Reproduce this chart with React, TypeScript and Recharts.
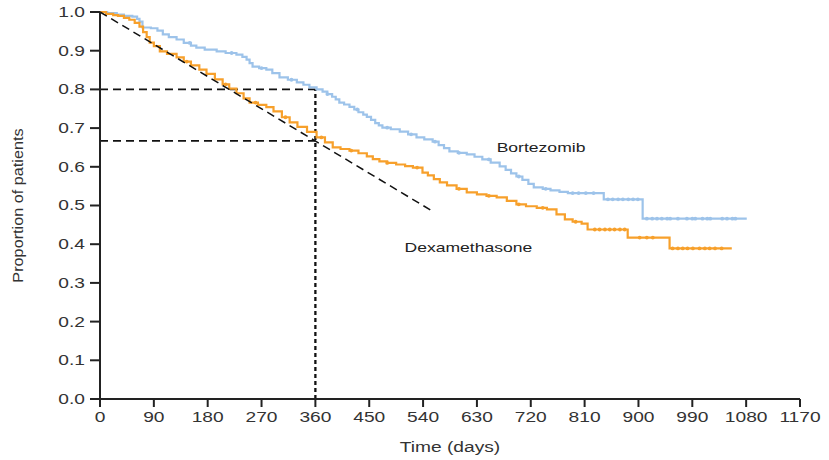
import { Line, LineChart, ReferenceDot, ReferenceLine, XAxis, YAxis } from 'recharts'

// step curves: event times (days) and survival after each step
const bortezomibDays = [0, 12, 28, 40, 54, 62, 66, 71, 85, 96, 105, 115, 128, 140, 152, 161, 175, 195, 210, 228, 238, 245, 250, 255, 266, 278, 288, 300, 314, 329, 340, 350, 362, 372, 380, 388, 394, 400, 408, 417, 425, 432, 440, 446, 453, 460, 466, 472, 486, 501, 515, 529, 542, 556, 566, 575, 584, 598, 613, 626, 639, 653, 668, 678, 687, 696, 706, 716, 725, 740, 753, 768, 782, 842, 907, 1081]
const bortezomibSurv = [1.0, 0.997, 0.993, 0.99, 0.988, 0.982, 0.975, 0.96, 0.958, 0.952, 0.942, 0.935, 0.929, 0.92, 0.913, 0.908, 0.903, 0.898, 0.894, 0.89, 0.884, 0.877, 0.868, 0.859, 0.855, 0.851, 0.842, 0.831, 0.825, 0.818, 0.812, 0.805, 0.8, 0.794, 0.788, 0.781, 0.774, 0.766, 0.761, 0.755, 0.748, 0.741, 0.735, 0.729, 0.721, 0.713, 0.707, 0.701, 0.697, 0.691, 0.684, 0.676, 0.671, 0.665, 0.656, 0.648, 0.64, 0.636, 0.632, 0.626, 0.619, 0.611, 0.601, 0.592, 0.583, 0.575, 0.566, 0.556, 0.547, 0.543, 0.539, 0.535, 0.532, 0.516, 0.466, 0.466]
const bortezomibCensored = [150, 220, 270, 320, 380, 430, 480, 520, 560, 600, 650, 700, 745, 790, 800, 812, 825, 849, 857, 866, 874, 883, 891, 899, 914, 923, 931, 939, 948, 953, 966, 981, 990, 995, 1007, 1015, 1020, 1040, 1048, 1057, 1062]

const dexaDays = [0, 10, 22, 30, 40, 49, 58, 66, 72, 78, 83, 90, 100, 112, 128, 140, 152, 166, 178, 192, 205, 216, 228, 240, 250, 264, 278, 290, 304, 317, 330, 346, 362, 376, 389, 402, 417, 432, 446, 456, 467, 480, 495, 510, 523, 539, 548, 558, 568, 580, 596, 613, 630, 646, 663, 680, 696, 712, 730, 747, 763, 777, 790, 805, 815, 882, 952, 1056]
const dexaSurv = [1.0, 0.995, 0.992, 0.99, 0.985, 0.98, 0.972, 0.962, 0.948, 0.935, 0.921, 0.912, 0.898, 0.892, 0.883, 0.872, 0.862, 0.851, 0.84, 0.826, 0.813, 0.802, 0.79, 0.777, 0.766, 0.76, 0.754, 0.743, 0.728, 0.715, 0.703, 0.69, 0.676, 0.663, 0.65, 0.646, 0.642, 0.635, 0.627, 0.62, 0.614, 0.61, 0.606, 0.602, 0.598, 0.585, 0.578, 0.568, 0.56, 0.552, 0.543, 0.534, 0.529, 0.525, 0.521, 0.512, 0.503, 0.498, 0.494, 0.49, 0.477, 0.464, 0.458, 0.453, 0.438, 0.417, 0.389, 0.389]
const dexaCensored = [145, 210, 260, 310, 370, 420, 480, 530, 600, 650, 700, 740, 795, 827, 835, 844, 852, 860, 869, 877, 902, 914, 924, 957, 966, 974, 982, 991, 1002, 1011, 1019, 1028, 1039]

const xTicks = [0, 90, 180, 270, 360, 450, 540, 630, 720, 810, 900, 990, 1080, 1170]
const yTicks = [0, 0.1, 0.2, 0.3, 0.4, 0.5, 0.6, 0.7, 0.8, 0.9, 1.0]

// guide lines
const landmarkDay = 360
const landmarkBortezomib = 0.8
const landmarkDexa = 0.667
const trendEnd = { x: 555, y: 0.486 }

const BLUE = '#9dc3ea'
const ORANGE = '#f7a02b'
const FONT = '"Liberation Sans", Arial, sans-serif'
const WIDE = 1.37 // the figure's lettering is stretched sideways

type Row = { t: number; s: number; c: boolean }

function buildCurve(days: number[], surv: number[], censored: number[]): Row[] {
    const rows: Row[] = days.map((t, i) => ({ t, s: surv[i], c: false }))
    censored.forEach((t) => {
        let s = surv[0]
        days.forEach((d, i) => {
            if (d <= t) s = surv[i]
        })
        rows.push({ t, s, c: true })
    })
    return rows.sort((a, b) => a.t - b.t)
}

const bortezomib = buildCurve(bortezomibDays, bortezomibSurv, bortezomibCensored)
const dexa = buildCurve(dexaDays, dexaSurv, dexaCensored)

const censorDot = (color: string) => (props: any) => {
    const { cx, cy, payload, index } = props
    if (!payload || !payload.c) return <g key={`n-${index}`} />
    return <circle key={`c-${index}`} cx={cx} cy={cy} r={1.9} fill={color} />
}

const XTick = (props: any) => {
    const { x, y, payload } = props
    return (
        <g transform={`translate(${x},${y})`}>
            <text transform={`scale(${WIDE},1)`} textAnchor='middle' dy='0.71em' fontSize={14} fill='#333' fontFamily={FONT}>
                {payload.value}
            </text>
        </g>
    )
}

const YTick = (props: any) => {
    const { x, y, payload } = props
    return (
        <g transform={`translate(${x},${y})`}>
            <text transform={`scale(${WIDE},1)`} textAnchor='end' dy='0.355em' fontSize={14} fill='#333' fontFamily={FONT}>
                {Number(payload.value).toFixed(1)}
            </text>
        </g>
    )
}

const XTitle = (props: any) => {
    const { viewBox } = props
    const cx = viewBox.x + viewBox.width / 2
    return (
        <g transform={`translate(${cx},${viewBox.y + viewBox.height - 8})`}>
            <text transform={`scale(${WIDE},1)`} textAnchor='middle' fontSize={14} fill='#333' fontFamily={FONT}>
                Time (days)
            </text>
        </g>
    )
}

const YTitle = (props: any) => {
    const { viewBox } = props
    const cy = viewBox.y + viewBox.height / 2
    return (
        <g transform={`translate(18,${cy}) rotate(-90)`}>
            <text transform='scale(1.16,1)' textAnchor='middle' dy='0.355em' fontSize={14} fill='#333' fontFamily={FONT}>
                Proportion of patients
            </text>
        </g>
    )
}

const CurveName = (name: string) => (props: any) => {
    const { viewBox } = props
    return (
        <g transform={`translate(${viewBox.x},${viewBox.y})`}>
            <text transform='scale(1.35,1)' textAnchor='start' dy='0.355em' fontSize={13} fill='#222' fontFamily={FONT}>
                {name}
            </text>
        </g>
    )
}

const App = () => {
    return (
        <div style={{ position: 'absolute', left: 0, top: 0, background: '#fff' }}>
            <LineChart width={829} height={460} margin={{ top: 12, right: 29, left: 0, bottom: 0 }}>
                <XAxis
                    type='number'
                    dataKey='t'
                    domain={[0, 1170]}
                    ticks={xTicks}
                    interval={0}
                    height={61}
                    tickSize={8}
                    tickMargin={5}
                    tick={XTick}
                    stroke='#222'
                    strokeWidth={2}
                    label={{ content: XTitle }}
                />
                <YAxis
                    type='number'
                    domain={[0, 1]}
                    ticks={yTicks}
                    interval={0}
                    width={100}
                    tickSize={10}
                    tickMargin={5}
                    tick={YTick}
                    stroke='#222'
                    strokeWidth={2}
                    label={{ content: YTitle }}
                />
                <ReferenceLine segment={[{ x: 0, y: landmarkBortezomib }, { x: landmarkDay, y: landmarkBortezomib }]} stroke='#111' strokeWidth={1.7} strokeDasharray='8 5' />
                <ReferenceLine segment={[{ x: 0, y: landmarkDexa }, { x: landmarkDay, y: landmarkDexa }]} stroke='#111' strokeWidth={1.7} strokeDasharray='8 5' />
                <ReferenceLine segment={[{ x: landmarkDay, y: 0 }, { x: landmarkDay, y: landmarkBortezomib }]} stroke='#111' strokeWidth={2.3} strokeDasharray='4 3' />
                <Line data={bortezomib} dataKey='s' type='stepAfter' stroke={BLUE} strokeWidth={2.2} dot={censorDot(BLUE)} activeDot={false} isAnimationActive={false} />
                <Line data={dexa} dataKey='s' type='stepAfter' stroke={ORANGE} strokeWidth={2.2} dot={censorDot(ORANGE)} activeDot={false} isAnimationActive={false} />
                <ReferenceLine segment={[{ x: 0, y: 1 }, trendEnd]} stroke='#111' strokeWidth={1.5} strokeDasharray='8 5' />
                <ReferenceDot x={663} y={0.65} r={0} label={{ content: CurveName('Bortezomib') }} />
                <ReferenceDot x={509} y={0.391} r={0} label={{ content: CurveName('Dexamethasone') }} />
            </LineChart>
        </div>
    )
}

export default App
